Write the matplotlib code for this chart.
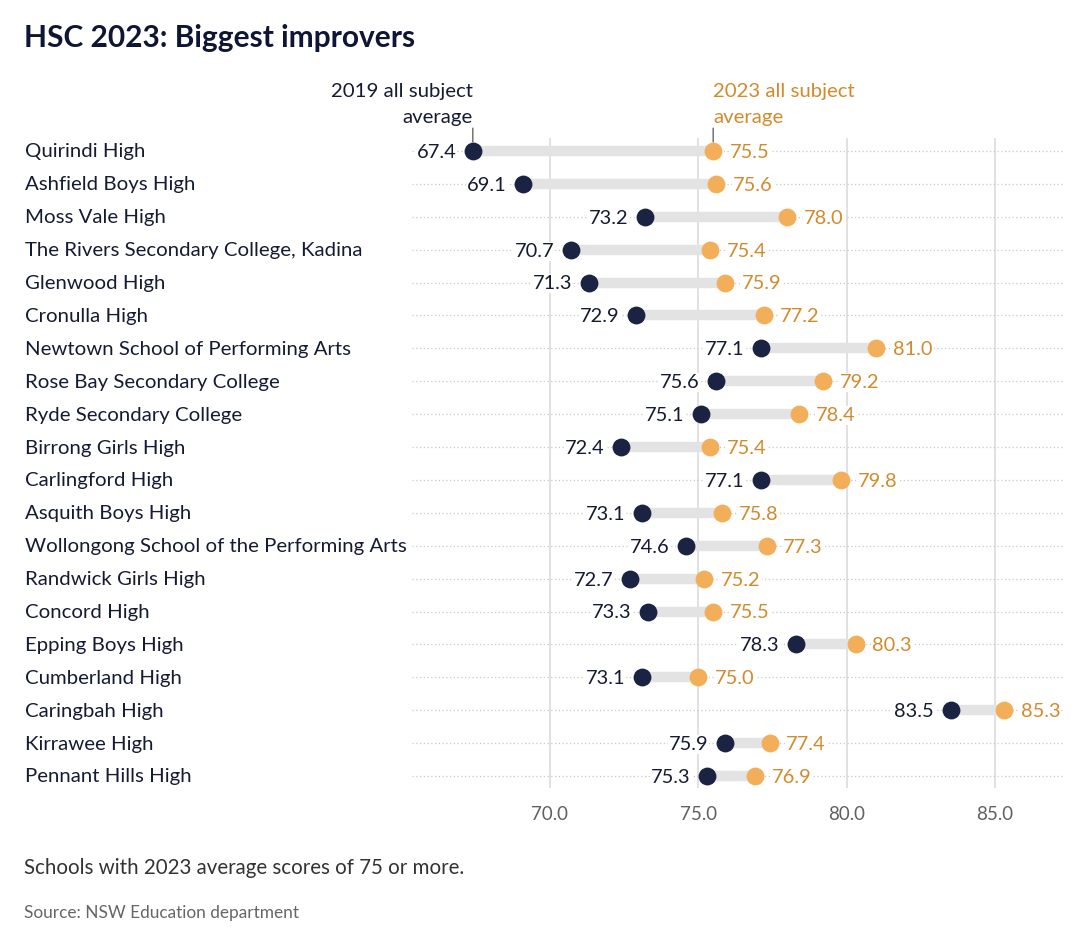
import matplotlib
matplotlib.use("Agg")
import matplotlib.pyplot as plt

plt.rcParams['font.family'] = ['Lato', 'DejaVu Sans']

schools = [
    "Quirindi High",
    "Ashfield Boys High",
    "Moss Vale High",
    "The Rivers Secondary College, Kadina",
    "Glenwood High",
    "Cronulla High",
    "Newtown School of Performing Arts",
    "Rose Bay Secondary College",
    "Ryde Secondary College",
    "Birrong Girls High",
    "Carlingford High",
    "Asquith Boys High",
    "Wollongong School of the Performing Arts",
    "Randwick Girls High",
    "Concord High",
    "Epping Boys High",
    "Cumberland High",
    "Caringbah High",
    "Kirrawee High",
    "Pennant Hills High",
]
avg_2019 = [67.4, 69.1, 73.2, 70.7, 71.3, 72.9, 77.1, 75.6, 75.1, 72.4,
            77.1, 73.1, 74.6, 72.7, 73.3, 78.3, 73.1, 83.5, 75.9, 75.3]
avg_2023 = [75.5, 75.6, 78.0, 75.4, 75.9, 77.2, 81.0, 79.2, 78.4, 75.4,
            79.8, 75.8, 77.3, 75.2, 75.5, 80.3, 75.0, 85.3, 77.4, 76.9]
x_ticks = [70, 75, 80, 85]
x_tick_labels = ["70.0", "75.0", "80.0", "85.0"]

NAVY = "#1b2342"
ORANGE = "#f2ae58"
ORANGE_TXT = "#d38a2c"
TEXT = "#151b33"
GRID = "#dcdcdc"

W, H = 1080, 939
fig = plt.figure(figsize=(W / 100, H / 100), dpi=100)
ax = fig.add_axes([412 / W, 1 - 788 / H, (1063 - 412) / W, (788 - 138) / H])

rows = list(range(len(schools)))
ax.set_xlim(65.35, 87.29)
ax.set_ylim(19.365, -0.395)

# gridlines
for t in x_ticks:
    ax.axvline(t, color=GRID, lw=1.2, zorder=0)
for r in rows:
    ax.axhline(r, color="#c8c8c8", lw=0.9, ls=(0, (1, 2)), zorder=0.5)

# connectors
for r, a, b in zip(rows, avg_2019, avg_2023):
    ax.plot([a, b], [r, r], color="#e3e3e3", lw=7.5, solid_capstyle="butt", zorder=1)

ax.scatter(avg_2019, rows, s=165, color=NAVY, zorder=3, linewidths=0)
ax.scatter(avg_2023, rows, s=165, color=ORANGE, zorder=3, linewidths=0)

VFS = 14.4
bbox = dict(boxstyle="square,pad=0.05", fc="white", ec="none")
for r, a, b in zip(rows, avg_2019, avg_2023):
    ax.annotate(f"{a:.1f}", xy=(a, r), xytext=(-12, -1), textcoords="offset points",
                ha="right", va="center", fontsize=VFS, color=TEXT, bbox=bbox, zorder=4)
    ax.annotate(f"{b:.1f}", xy=(b, r), xytext=(12, -1), textcoords="offset points",
                ha="left", va="center", fontsize=VFS, color=ORANGE_TXT, bbox=bbox, zorder=4)

# school labels
for r, s in zip(rows, schools):
    ax.annotate(s, xy=(0, r), xycoords=("figure pixels", "data"),
                xytext=(25, -1), textcoords="offset pixels",
                ha="left", va="center", fontsize=14.7, color=TEXT, annotation_clip=False)

# series annotations
ax.annotate("2019 all subject\naverage", xy=(avg_2019[0], 0), xytext=(0, 18),
            textcoords="offset points", ha="right", va="bottom", fontsize=14.7,
            color=TEXT, linespacing=1.62, annotation_clip=False)
ax.annotate("", xy=(avg_2019[0], 0), xytext=(0, 16.5), textcoords="offset points",
            arrowprops=dict(arrowstyle="-", color="#555555", lw=0.9, shrinkA=0, shrinkB=6.5),
            annotation_clip=False)
ax.annotate("2023 all subject\naverage", xy=(avg_2023[0], 0), xytext=(0, 18),
            textcoords="offset points", ha="left", va="bottom", fontsize=14.7,
            color=ORANGE_TXT, linespacing=1.62, annotation_clip=False)
ax.annotate("", xy=(avg_2023[0], 0), xytext=(0, 16.5), textcoords="offset points",
            arrowprops=dict(arrowstyle="-", color="#555555", lw=0.9, shrinkA=0, shrinkB=6.5),
            annotation_clip=False)

ax.set_xticks(x_ticks)
ax.set_xticklabels(x_tick_labels)
ax.set_yticks([])
ax.tick_params(axis="x", length=0, labelsize=13.5, labelcolor="#606060", pad=13)
for sp in ax.spines.values():
    sp.set_visible(False)

fig.text(24 / W, 1 - 38 / H, "HSC 2023: Biggest improvers", fontsize=21.5,
         fontweight="bold", color="#0f1535", ha="left", va="center")
fig.text(24 / W, 1 - 868 / H, "Schools with 2023 average scores of 75 or more.",
         fontsize=14.8, color="#333333", ha="left", va="center")
fig.text(24 / W, 1 - 913 / H, "Source: NSW Education department",
         fontsize=12.4, color="#666666", ha="left", va="center")

fig.savefig("out.png", dpi=100)
